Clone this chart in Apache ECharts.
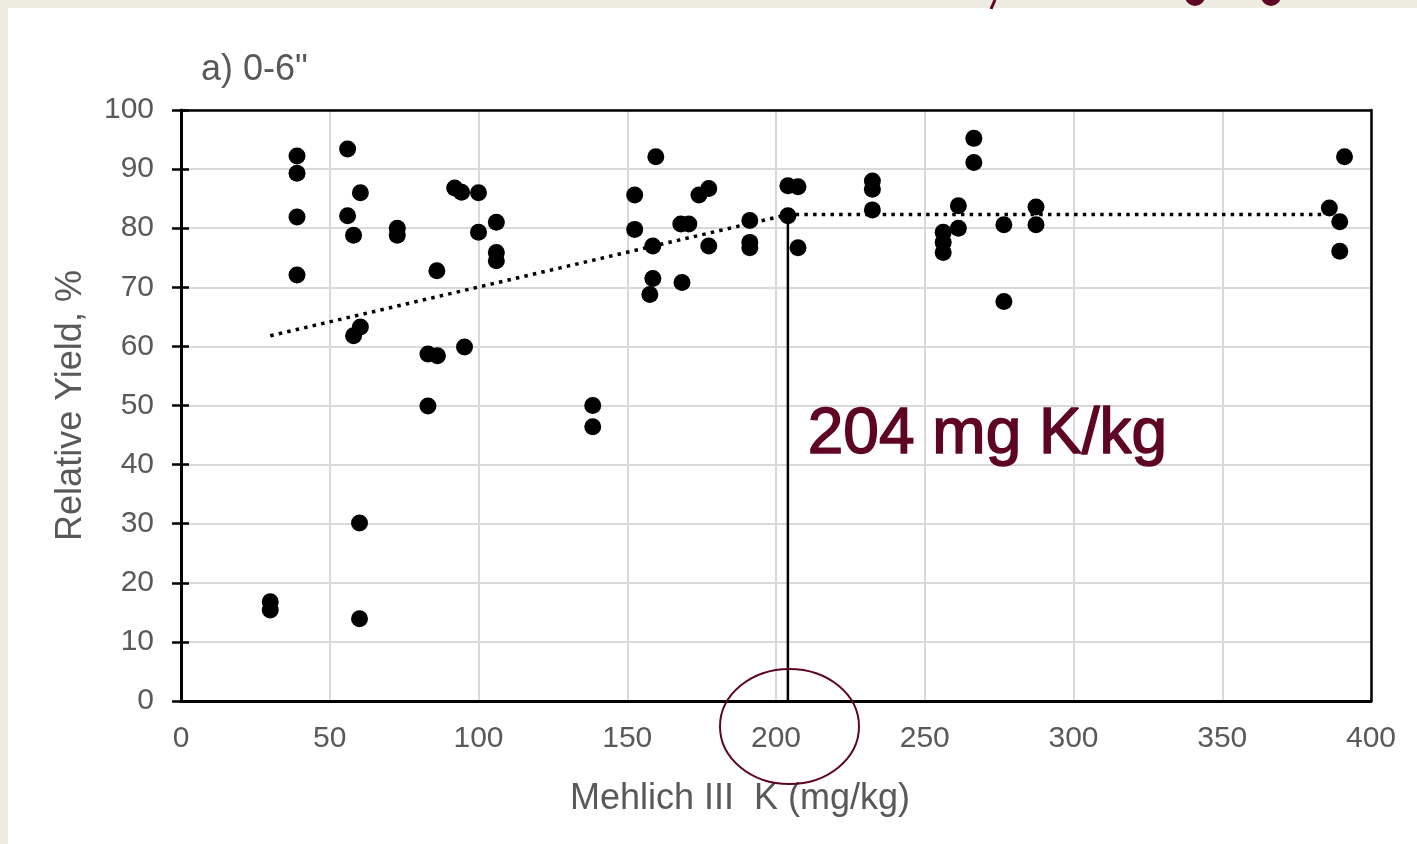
<!DOCTYPE html>
<html>
<head>
<meta charset="utf-8">
<script src="https://cdn.jsdelivr.net/npm/echarts@6/dist/echarts.min.js"></script>
<style>
  html, body { margin: 0; padding: 0; background: #eeebe0; }
  #panel { position: absolute; left: 8px; top: 8px; width: 1409px; height: 836px; background: #fff; }
  #main { position: absolute; left: 0; top: 0; width: 1417px; height: 844px; }
</style>
</head>
<body>
<div id="panel"></div>
<div id="main"></div>
<script>
// Mehlich III K (mg/kg) vs relative yield (%), 0-6" depth
var kValues = [30, 30, 39, 39, 39, 39, 56, 56, 58, 60.3, 58, 60.3, 60, 60, 72.7, 72.7,
  83, 86.2, 83, 86, 92, 94.3, 100, 95.3, 100, 106, 106, 106, 138.4, 138.4,
  159.6, 152.5, 152.5, 158.6, 158.6, 157.6, 168.4, 168, 170.7, 174.1, 177.4, 177.4,
  191.2, 191.2, 191.2, 204, 207.4, 204, 207.4, 232.4, 232.4, 232.4, 266.5, 266.5,
  256.2, 256.2, 256.2, 261.3, 261.3, 276.6, 276.6, 287.4, 287.4, 386, 389.5, 389.5, 391.1];
var yieldValues = [16.8, 15.4, 92.2, 89.3, 81.9, 72.1, 93.4, 82.1, 78.8, 86.0, 61.8, 63.3, 30.1, 13.9, 80.0, 78.8,
  58.7, 58.4, 49.9, 72.8, 86.8, 86.1, 86.0, 59.9, 79.3, 81.0, 75.9, 74.5, 50.0, 46.4,
  92.1, 85.6, 79.8, 77.0, 71.5, 68.8, 70.8, 80.7, 80.7, 85.6, 86.7, 77.0,
  81.3, 77.6, 76.7, 87.2, 87.0, 82.1, 76.7, 88.0, 86.6, 83.1, 95.2, 91.1,
  79.3, 77.6, 75.9, 83.8, 80.0, 80.6, 67.6, 83.6, 80.6, 83.4, 81.1, 76.1, 92.1];

// linear-plateau fit
var trendK = [30, 204, 384];
var trendYield = [61.8, 82.3, 82.3];
var criticalK = 204;
var plateauYield = 82.3;

var xTicks = { min: 0, max: 400, interval: 50 };
var yTicks = { min: 0, max: 100, interval: 10 };

var maroon = '#5e0526';
var gray = '#595959';
var font = '"Liberation Sans", Arial, sans-serif';

var points = kValues.map(function (k, i) { return [k, yieldValues[i]]; });
var trend = trendK.map(function (k, i) { return [k, trendYield[i]]; });

var chart = echarts.init(document.getElementById('main'));
chart.setOption({
  animation: false,
  textStyle: { fontFamily: font },
  grid: { left: 181, right: 46, top: 110, bottom: 143 },
  xAxis: [{
    type: 'value', min: xTicks.min, max: xTicks.max, interval: xTicks.interval,
    name: 'Mehlich III  K (mg/kg)', nameLocation: 'middle', nameGap: 80,
    nameTextStyle: { color: gray, fontSize: 36, fontFamily: font, padding: [0, 72, 0, 0] },
    axisLine: { onZero: false, lineStyle: { color: '#000', width: 3 } },
    axisTick: { show: false },
    axisLabel: { color: gray, fontSize: 30, fontFamily: font, margin: 23 },
    splitLine: { lineStyle: { color: '#d9d9d9', width: 2 } }
  }, {
    // top frame edge
    type: 'value', min: xTicks.min, max: xTicks.max, position: 'top',
    axisLine: { onZero: false, lineStyle: { color: '#000', width: 2.5 } },
    axisTick: { show: false }, axisLabel: { show: false }, splitLine: { show: false }
  }],
  yAxis: [{
    type: 'value', min: yTicks.min, max: yTicks.max, interval: yTicks.interval,
    name: 'Relative Yield, %', nameLocation: 'middle', nameGap: 92,
    nameTextStyle: { color: gray, fontSize: 36, fontFamily: font },
    axisLine: { onZero: false, lineStyle: { color: '#000', width: 3 } },
    axisTick: { show: true, length: 9, lineStyle: { color: '#000', width: 2.5 } },
    axisLabel: { color: gray, fontSize: 30, fontFamily: font, margin: 27 },
    splitLine: { lineStyle: { color: '#d9d9d9', width: 2 } }
  }, {
    // inner half of the crossing ticks
    type: 'value', min: yTicks.min, max: yTicks.max, interval: yTicks.interval, position: 'left',
    axisLine: { show: false, onZero: false },
    axisTick: { show: true, inside: true, length: 8, lineStyle: { color: '#000', width: 2.5 } },
    axisLabel: { show: false },
    splitLine: { show: false }
  }, {
    // right frame edge
    type: 'value', min: yTicks.min, max: yTicks.max, position: 'right',
    axisLine: { onZero: false, lineStyle: { color: '#000', width: 2.5 } },
    axisTick: { show: false }, axisLabel: { show: false }, splitLine: { show: false }
  }],
  series: [{
    type: 'line', data: trend, showSymbol: false, symbol: 'none', z: 2,
    lineStyle: { color: '#000', width: 3.5, type: [3.5, 5.2] }
  }, {
    type: 'line', data: [[criticalK, 0], [criticalK, plateauYield]], symbol: 'none', z: 2,
    lineStyle: { color: '#000', width: 2.5 }
  }, {
    type: 'scatter', data: points, symbol: 'circle', symbolSize: 17, z: 3,
    itemStyle: { color: '#000', opacity: 1 }
  }],
  graphic: [
    { type: 'text', left: 201, top: 52, z: 100,
      style: { text: 'a) 0-6"', fill: gray, font: '36px ' + font } },
    { type: 'text', left: 807, top: 403, z: 100,
      style: { text: criticalK + ' mg K/kg', fill: maroon, stroke: maroon, lineWidth: 1.5, font: '64px ' + font } },
    { type: 'ellipse', z: 100, shape: { cx: 789.5, cy: 726.5, rx: 69.5, ry: 57.5 },
      style: { fill: 'none', stroke: maroon, lineWidth: 2 } },
    // clipped heading glyphs at the top edge
    { type: 'line', shape: { x1: 991, y1: 9, x2: 995, y2: 0 }, style: { stroke: maroon, lineWidth: 3 } },
    { type: 'circle', shape: { cx: 1195, cy: -4, r: 10 }, style: { fill: maroon } },
    { type: 'circle', shape: { cx: 1271, cy: -4, r: 10 }, style: { fill: maroon } }
  ]
});
</script>
</body>
</html>
